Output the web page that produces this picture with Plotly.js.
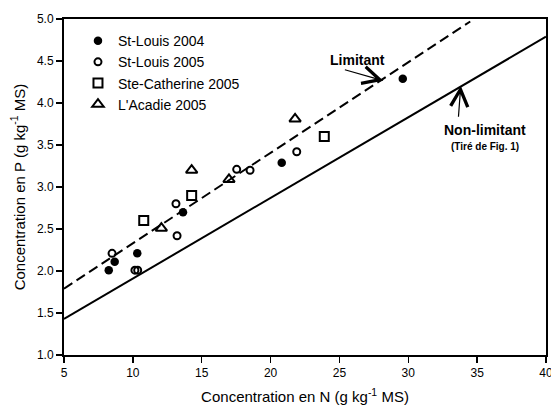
<!DOCTYPE html>
<html>
<head>
<meta charset="utf-8">
<script src="https://cdn.plot.ly/plotly-3.0.1.min.js"></script>
<style>html,body{margin:0;padding:0;background:#fff;}#chart{width:551px;height:411px;}</style>
</head>
<body>
<div id="chart"></div>
<script>
// St-Louis 2004 (filled circles)
const stLouis2004N = [8.25, 8.68, 10.32, 13.64, 20.81, 29.60];
const stLouis2004P = [2.01, 2.11, 2.21, 2.70, 3.29, 4.29];
// St-Louis 2005 (open circles)
const stLouis2005N = [8.49, 10.15, 10.35, 13.13, 13.21, 17.54, 18.51, 21.90];
const stLouis2005P = [2.21, 2.01, 2.01, 2.80, 2.42, 3.21, 3.20, 3.42];
// Ste-Catherine 2005 (open squares)
const steCatherine2005N = [10.79, 14.27, 23.90];
const steCatherine2005P = [2.60, 2.90, 3.60];
// L'Acadie 2005 (open triangles)
const acadie2005N = [12.07, 14.27, 16.98, 21.78];
const acadie2005P = [2.51, 3.20, 3.09, 3.81];
// Critical dilution lines
const limitantN = [5, 34.5];
const limitantP = [1.79, 4.97];
const nonLimitantN = [5, 40];
const nonLimitantP = [1.43, 4.79];

const FONT = "Liberation Sans, Arial, sans-serif";
const mk = (sym, size, filled) => ({
  symbol: sym, size: size, color: '#000',
  line: {color: '#000', width: filled ? 0 : 2}
});

const traces = [
  {x: limitantN, y: limitantP, mode: 'lines', showlegend: false, hoverinfo: 'skip',
   line: {color: '#000', width: 2, dash: '10px,5px'}},
  {x: nonLimitantN, y: nonLimitantP, mode: 'lines', showlegend: false, hoverinfo: 'skip',
   line: {color: '#000', width: 2}},
  {x: stLouis2004N, y: stLouis2004P, mode: 'markers', name: 'St-Louis 2004', marker: mk('circle', 8.5, true)},
  {x: stLouis2005N, y: stLouis2005P, mode: 'markers', name: 'St-Louis 2005', marker: mk('circle-open', 7, false)},
  {x: steCatherine2005N, y: steCatherine2005P, mode: 'markers', name: 'Ste-Catherine 2005', marker: mk('square-open', 9, false)},
  {x: acadie2005N, y: acadie2005P, mode: 'markers', name: "L'Acadie 2005", marker: mk('triangle-up-open', 10, false)}
];

const axisCommon = {
  showgrid: false, zeroline: false, showline: true, linecolor: '#000', linewidth: 2,
  mirror: true, ticks: 'outside', ticklen: 6, tickwidth: 1.5, tickcolor: '#000',
  ticklabeloverflow: 'allow',
  tickfont: {family: FONT, size: 12, color: '#000'}
};

const layout = {
  width: 551, height: 411,
  margin: {l: 64, r: 5, t: 19, b: 56},
  paper_bgcolor: '#fff', plot_bgcolor: '#fff',
  font: {family: FONT, color: '#000'},
  xaxis: Object.assign({}, axisCommon, {
    range: [5, 40], tickvals: [5, 10, 15, 20, 25, 30, 35, 40],
    ticktext: ['5', '10', '15', '20', '25', '30', '35', '40'],
    title: {text: 'Concentration en N (g kg<sup>-1</sup> MS)', font: {family: FONT, size: 15, color: '#000'}, standoff: 12}
  }),
  yaxis: Object.assign({}, axisCommon, {
    range: [1, 5], tickvals: [1, 1.5, 2, 2.5, 3, 3.5, 4, 4.5, 5],
    ticktext: ['1.0', '1.5', '2.0', '2.5', '3.0', '3.5', '4.0', '4.5', '5.0'],
    title: {text: 'Concentration en P (g kg<sup>-1</sup> MS)', font: {family: FONT, size: 15, color: '#000'}, standoff: 8}
  }),
  legend: {x: 0.029, y: 0.982, xanchor: 'left', yanchor: 'top', bgcolor: 'rgba(0,0,0,0)',
    font: {family: FONT, size: 14, color: '#000'}, tracegroupgap: 0},
  showlegend: true,
  annotations: [
    {x: 28.19, y: 4.265, xref: 'x', yref: 'y', ax: -40, ay: -11.4, showarrow: true,
     arrowhead: 5, arrowsize: 2.8, arrowwidth: 1.2, arrowcolor: '#000', text: ''},
    {x: 26.28, y: 4.512, xref: 'x', yref: 'y', showarrow: false, text: '<b>Limitant</b>',
     font: {family: FONT, size: 14, color: '#000'}},
    {x: 33.81, y: 4.206, xref: 'x', yref: 'y', ax: -2.4, ay: 32.6, showarrow: true,
     arrowhead: 5, arrowsize: 2.8, arrowwidth: 1.2, arrowcolor: '#000', text: ''},
    {x: 35.57, y: 3.68, xref: 'x', yref: 'y', showarrow: false, text: '<b>Non-limitant</b>',
     font: {family: FONT, size: 14, color: '#000'}},
    {x: 35.57, y: 3.48, xref: 'x', yref: 'y', showarrow: false, text: '<b>(Tiré de Fig. 1)</b>',
     font: {family: FONT, size: 10, color: '#000'}},
    {x: (133 - 64) / 482, y: 1.09, xref: 'paper', yref: 'paper', showarrow: false, text: 'g',
     yanchor: 'middle', font: {family: FONT, size: 14, color: '#000'}}
  ]
};

Plotly.newPlot('chart', traces, layout, {displayModeBar: false, staticPlot: true});
</script>
</body>
</html>
